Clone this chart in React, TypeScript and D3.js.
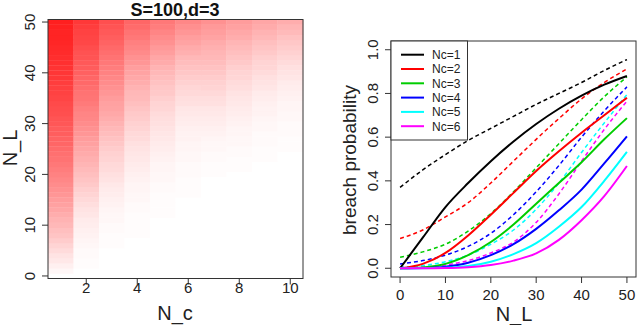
import * as d3 from "d3";

// heatmap: breach probability per N_c column, rows N_L = 0..50
const ncCols = [1, 2, 3, 4, 5, 6, 7, 8, 9, 10];
const heatNc1 = [0.0, 0.03, 0.06, 0.09, 0.11, 0.14, 0.17, 0.2, 0.23, 0.25, 0.28, 0.3, 0.32, 0.35, 0.37, 0.39, 0.41, 0.43, 0.45, 0.47, 0.49, 0.51, 0.53, 0.55, 0.56, 0.58, 0.6, 0.61, 0.63, 0.64, 0.66, 0.67, 0.69, 0.7, 0.71, 0.73, 0.74, 0.75, 0.76, 0.78, 0.79, 0.8, 0.81, 0.82, 0.83, 0.84, 0.85, 0.86, 0.86, 0.87, 0.88];
const heatNc2 = [0.0, 0.0, 0.01, 0.01, 0.02, 0.02, 0.03, 0.04, 0.05, 0.06, 0.07, 0.08, 0.1, 0.11, 0.13, 0.15, 0.17, 0.19, 0.21, 0.23, 0.25, 0.27, 0.29, 0.31, 0.33, 0.35, 0.37, 0.39, 0.41, 0.43, 0.45, 0.47, 0.48, 0.5, 0.52, 0.54, 0.55, 0.57, 0.59, 0.6, 0.62, 0.64, 0.65, 0.67, 0.68, 0.7, 0.72, 0.73, 0.74, 0.76, 0.78];
const heatNc3 = [0.0, 0.0, 0.0, 0.0, 0.0, 0.0, 0.01, 0.01, 0.01, 0.02, 0.02, 0.03, 0.03, 0.04, 0.05, 0.06, 0.07, 0.08, 0.09, 0.11, 0.12, 0.14, 0.15, 0.17, 0.18, 0.2, 0.22, 0.24, 0.26, 0.28, 0.3, 0.32, 0.34, 0.36, 0.37, 0.39, 0.41, 0.43, 0.45, 0.47, 0.49, 0.51, 0.53, 0.55, 0.57, 0.59, 0.61, 0.63, 0.65, 0.67, 0.69];
const heatNc4 = [0.0, 0.0, 0.0, 0.0, 0.0, 0.0, 0.0, 0.0, 0.01, 0.01, 0.01, 0.01, 0.01, 0.02, 0.02, 0.03, 0.03, 0.04, 0.04, 0.05, 0.06, 0.07, 0.08, 0.09, 0.1, 0.11, 0.12, 0.14, 0.15, 0.17, 0.18, 0.2, 0.21, 0.23, 0.25, 0.27, 0.28, 0.3, 0.32, 0.34, 0.36, 0.38, 0.41, 0.43, 0.46, 0.48, 0.5, 0.53, 0.55, 0.58, 0.6];
const heatNc5 = [0.0, 0.0, 0.0, 0.0, 0.0, 0.0, 0.0, 0.0, 0.0, 0.0, 0.0, 0.0, 0.01, 0.01, 0.01, 0.01, 0.01, 0.02, 0.02, 0.03, 0.03, 0.04, 0.04, 0.05, 0.06, 0.07, 0.08, 0.09, 0.1, 0.11, 0.12, 0.13, 0.14, 0.16, 0.17, 0.19, 0.21, 0.22, 0.24, 0.26, 0.28, 0.3, 0.33, 0.35, 0.38, 0.4, 0.43, 0.45, 0.48, 0.51, 0.53];
const heatNc6 = [0.0, 0.0, 0.0, 0.0, 0.0, 0.0, 0.0, 0.0, 0.0, 0.0, 0.0, 0.0, 0.0, 0.0, 0.0, 0.0, 0.01, 0.01, 0.01, 0.01, 0.02, 0.02, 0.02, 0.03, 0.03, 0.04, 0.04, 0.05, 0.05, 0.06, 0.07, 0.08, 0.09, 0.1, 0.12, 0.13, 0.15, 0.16, 0.18, 0.2, 0.22, 0.24, 0.26, 0.28, 0.31, 0.33, 0.36, 0.38, 0.41, 0.44, 0.47];
const heatNc7 = [0.0, 0.0, 0.0, 0.0, 0.0, 0.0, 0.0, 0.0, 0.0, 0.0, 0.0, 0.0, 0.0, 0.0, 0.0, 0.0, 0.0, 0.0, 0.0, 0.0, 0.01, 0.01, 0.01, 0.02, 0.02, 0.03, 0.03, 0.04, 0.05, 0.06, 0.07, 0.08, 0.09, 0.1, 0.12, 0.13, 0.15, 0.17, 0.18, 0.2, 0.22, 0.24, 0.26, 0.28, 0.29, 0.31, 0.33, 0.36, 0.38, 0.4, 0.43];
const heatNc8 = [0.0, 0.0, 0.0, 0.0, 0.0, 0.0, 0.0, 0.0, 0.0, 0.0, 0.0, 0.0, 0.0, 0.0, 0.0, 0.0, 0.0, 0.0, 0.0, 0.0, 0.0, 0.01, 0.01, 0.01, 0.02, 0.02, 0.03, 0.03, 0.04, 0.04, 0.05, 0.06, 0.07, 0.08, 0.09, 0.1, 0.11, 0.13, 0.14, 0.16, 0.17, 0.19, 0.21, 0.23, 0.25, 0.27, 0.29, 0.32, 0.34, 0.37, 0.39];
const heatNc9 = [0.0, 0.0, 0.0, 0.0, 0.0, 0.0, 0.0, 0.0, 0.0, 0.0, 0.0, 0.0, 0.0, 0.0, 0.0, 0.0, 0.0, 0.0, 0.0, 0.0, 0.0, 0.0, 0.0, 0.01, 0.01, 0.01, 0.02, 0.02, 0.02, 0.03, 0.03, 0.04, 0.05, 0.05, 0.06, 0.07, 0.08, 0.1, 0.11, 0.12, 0.14, 0.16, 0.17, 0.19, 0.21, 0.23, 0.25, 0.28, 0.3, 0.33, 0.35];
const heatNc10 = [0.0, 0.0, 0.0, 0.0, 0.0, 0.0, 0.0, 0.0, 0.0, 0.0, 0.0, 0.0, 0.0, 0.0, 0.0, 0.0, 0.0, 0.0, 0.0, 0.0, 0.0, 0.0, 0.0, 0.0, 0.0, 0.01, 0.01, 0.01, 0.02, 0.02, 0.02, 0.03, 0.03, 0.04, 0.04, 0.05, 0.06, 0.07, 0.08, 0.1, 0.11, 0.12, 0.14, 0.16, 0.18, 0.2, 0.22, 0.24, 0.27, 0.29, 0.32];
const heatCols = [heatNc1, heatNc2, heatNc3, heatNc4, heatNc5, heatNc6, heatNc7, heatNc8, heatNc9, heatNc10];

// right panel: curves at N_L = 0,5,...,50
const nlPoints = [0, 5, 10, 15, 20, 25, 30, 35, 40, 45, 50];
const solidNc1 = [0.0, 0.14, 0.28, 0.39, 0.49, 0.58, 0.66, 0.73, 0.79, 0.84, 0.88];
const solidNc2 = [0.0, 0.02, 0.07, 0.15, 0.245, 0.345, 0.445, 0.535, 0.62, 0.7, 0.78];
const solidNc3 = [0.0, 0.004, 0.02, 0.06, 0.12, 0.2, 0.295, 0.39, 0.485, 0.59, 0.687];
const solidNc4 = [0.0, 0.001, 0.007, 0.025, 0.06, 0.11, 0.18, 0.265, 0.36, 0.48, 0.604];
const solidNc5 = [0.0, 0.0, 0.002, 0.01, 0.03, 0.065, 0.115, 0.19, 0.28, 0.4, 0.533];
const solidNc6 = [0.0, 0.0, 0.001, 0.005, 0.015, 0.035, 0.068, 0.13, 0.22, 0.33, 0.468];
const dashedNc1 = [0.37, 0.45, 0.52, 0.585, 0.64, 0.695, 0.75, 0.8, 0.85, 0.905, 0.955];
const dashedNc2 = [0.136, 0.175, 0.235, 0.3, 0.39, 0.49, 0.59, 0.685, 0.775, 0.85, 0.912];
const dashedNc3 = [0.05, 0.075, 0.11, 0.17, 0.25, 0.35, 0.46, 0.57, 0.68, 0.785, 0.876];
const dashedNc4 = [0.02, 0.035, 0.06, 0.1, 0.16, 0.245, 0.35, 0.47, 0.6, 0.72, 0.83];
const dashedNc5 = [0.005, 0.012, 0.03, 0.06, 0.11, 0.175, 0.27, 0.39, 0.53, 0.665, 0.795];
const dashedNc6 = [0.002, 0.005, 0.015, 0.035, 0.07, 0.12, 0.21, 0.34, 0.49, 0.635, 0.765];
const solidSeries = [solidNc1, solidNc2, solidNc3, solidNc4, solidNc5, solidNc6];
const dashedSeries = [dashedNc1, dashedNc2, dashedNc3, dashedNc4, dashedNc5, dashedNc6];
const legendLabels = ["Nc=1", "Nc=2", "Nc=3", "Nc=4", "Nc=5", "Nc=6"];
const seriesColors = ["#000000", "#ff0000", "#00cd00", "#0000ff", "#00ffff", "#ff00ff"];

const leftXTicks = [2, 4, 6, 8, 10];
const leftYTicks = [0, 10, 20, 30, 40, 50];
const rightXTicks = [0, 10, 20, 30, 40, 50];
const rightYTicks = [0, 0.2, 0.4, 0.6, 0.8, 1.0];

const FONT = "Liberation Sans, Arial, Helvetica, sans-serif";
const AXIS = "#333";

export default function App() {
  // left heatmap scales
  const hx = d3.scaleLinear().domain([0.5, 10.5]).range([48, 303]);
  const hy = d3.scaleLinear().domain([-0.5, 50.5]).range([278.5, 19.5]);
  const heat = d3.interpolateRgb("#ffffff", "#ff0000");

  // right line chart scales (R style 4% padding)
  const lx = d3.scaleLinear().domain([-2, 52]).range([391, 636]);
  const ly = d3.scaleLinear().domain([-0.04, 1.04]).range([277, 41]);
  const line = d3
    .line<number>()
    .x((_, i) => lx(nlPoints[i]))
    .y((d) => ly(d))
    .curve(d3.curveMonotoneX);

  return (
    <svg
      width={640}
      height={325}
      style={{ position: "absolute", left: 0, top: 0, background: "#fff" }}
      fontFamily={FONT}
    >
      {/* ---- left panel ---- */}
      <g>
        {heatCols.map((col, ci) =>
          col.map((v, r) => (
            <rect
              key={`${ci}-${r}`}
              x={hx(ncCols[ci] - 0.5)}
              y={hy(r + 0.5)}
              width={hx(ncCols[ci] + 0.5) - hx(ncCols[ci] - 0.5) + 0.3}
              height={hy(r - 0.5) - hy(r + 0.5) + 0.3}
              fill={heat(v)}
            />
          ))
        )}
        <rect x={48} y={19.5} width={255} height={259} fill="none" stroke={AXIS} strokeWidth={1} />
        {leftYTicks.map((t) => (
          <g key={t}>
            <line x1={42} x2={48} y1={hy(t)} y2={hy(t)} stroke={AXIS} />
            <text
              transform={`translate(34.5,${hy(t)}) rotate(-90)`}
              textAnchor="middle"
              fontSize={15}
              fill="#222"
            >
              {t}
            </text>
          </g>
        ))}
        {leftXTicks.map((t) => (
          <g key={t}>
            <line x1={hx(t)} x2={hx(t)} y1={278.5} y2={284.5} stroke={AXIS} />
            <text x={hx(t)} y={293} textAnchor="middle" fontSize={15} fill="#222">
              {t}
            </text>
          </g>
        ))}
        <text x={175} y={16} textAnchor="middle" fontSize={18} fontWeight="bold" fill="#111">
          S=100,d=3
        </text>
        <text x={175} y={320} textAnchor="middle" fontSize={20} fill="#222">
          N_c
        </text>
        <text transform="translate(17,148) rotate(-90)" textAnchor="middle" fontSize={20} fill="#222">
          N_L
        </text>
      </g>

      {/* ---- right panel ---- */}
      <g>
        {dashedSeries.map((s, i) => (
          <path
            key={`d${i}`}
            d={line(s) || ""}
            fill="none"
            stroke={seriesColors[i]}
            strokeWidth={1.5}
            strokeDasharray="4 3"
          />
        ))}
        {solidSeries.map((s, i) => (
          <path key={`s${i}`} d={line(s) || ""} fill="none" stroke={seriesColors[i]} strokeWidth={2} />
        ))}
        <rect x={391} y={41} width={245} height={236} fill="none" stroke={AXIS} strokeWidth={1} />
        {rightYTicks.map((t) => (
          <g key={t}>
            <line x1={385} x2={391} y1={ly(t)} y2={ly(t)} stroke={AXIS} />
            <text
              transform={`translate(378,${ly(t)}) rotate(-90)`}
              textAnchor="middle"
              fontSize={15}
              fill="#222"
            >
              {t.toFixed(1)}
            </text>
          </g>
        ))}
        {rightXTicks.map((t) => (
          <g key={t}>
            <line x1={lx(t)} x2={lx(t)} y1={277} y2={283} stroke={AXIS} />
            <text x={lx(t)} y={300} textAnchor="middle" fontSize={15} fill="#222">
              {t}
            </text>
          </g>
        ))}
        <text x={514} y={321} textAnchor="middle" fontSize={20} fill="#222">
          N_L
        </text>
        <text transform="translate(356,160) rotate(-90)" textAnchor="middle" fontSize={19} fill="#222">
          breach probability
        </text>

        {/* legend */}
        <rect x={391} y={41} width={76.5} height={99} fill="#fff" stroke={AXIS} strokeWidth={1} />
        {legendLabels.map((lab, i) => {
          const yy = 54.7 + i * 14.3;
          return (
            <g key={lab}>
              <line x1={401} x2={424} y1={yy} y2={yy} stroke={seriesColors[i]} strokeWidth={2} />
              <text x={432} y={yy + 4.3} fontSize={12} fill="#222">
                {lab}
              </text>
            </g>
          );
        })}
      </g>
    </svg>
  );
}
